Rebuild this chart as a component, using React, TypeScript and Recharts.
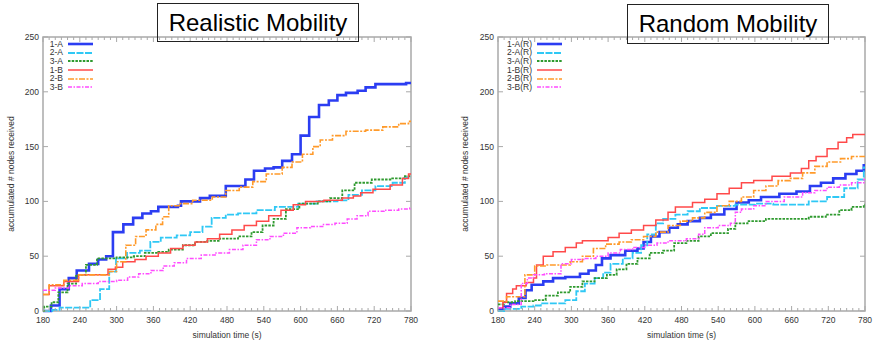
import { LineChart, Line, XAxis, YAxis, ReferenceArea, Legend } from "recharts";

type Pt = [number, number];

// axis ticks
const xMajorTicks = [180, 240, 300, 360, 420, 480, 540, 600, 660, 720, 780];
const xMinorTicks = Array.from({ length: 61 }, (_, i) => 180 + i * 10);
const yTicks = [0, 50, 100, 150, 200, 250];

const realisticNames = ["1-A", "2-A", "3-A", "1-B", "2-B", "3-B"];
const randomNames = ["1-A(R)", "2-A(R)", "3-A(R)", "1-B(R)", "2-B(R)", "3-B(R)"];

// realistic mobility: [time (s), accumulated nodes]
const realistic1A: Pt[] = [[180, 0], [193, 5], [207, 20], [222, 30], [235, 37], [255, 43], [270, 47], [283, 50], [294, 72], [311, 79], [327, 85], [342, 89], [356, 91], [368, 95], [400, 96], [405, 100], [436, 103], [452, 105], [478, 114], [510, 120], [524, 128], [542, 130], [556, 131], [570, 137], [586, 143], [600, 160], [614, 177], [630, 188], [646, 192], [660, 197], [674, 199], [693, 201], [706, 204], [722, 207], [772, 208], [780, 208]];
const realistic2A: Pt[] = [[180, 0], [195, 1], [207, 3], [257, 10], [273, 20], [288, 36], [299, 48], [317, 53], [338, 55], [355, 63], [372, 67], [398, 69], [420, 72], [440, 77], [455, 85], [478, 88], [498, 89], [528, 92], [558, 95], [596, 98], [626, 100], [660, 101], [678, 106], [700, 110], [722, 114], [750, 117], [770, 122], [780, 122]];
const realistic3A: Pt[] = [[180, 0], [182, 4], [194, 8], [205, 17], [220, 25], [234, 33], [250, 42], [268, 48], [300, 49], [328, 50], [346, 53], [368, 54], [385, 56], [408, 60], [428, 63], [448, 64], [468, 66], [498, 68], [520, 72], [538, 78], [556, 84], [576, 93], [598, 98], [628, 100], [648, 103], [668, 110], [688, 117], [716, 120], [748, 121], [770, 123], [780, 123]];
const realistic1B: Pt[] = [[180, 15], [190, 23], [214, 27], [238, 33], [286, 38], [298, 40], [310, 45], [330, 47], [348, 50], [368, 53], [388, 57], [408, 60], [428, 63], [448, 66], [468, 70], [488, 74], [508, 78], [528, 82], [548, 87], [568, 92], [588, 97], [608, 100], [638, 101], [668, 103], [686, 105], [698, 108], [718, 111], [746, 115], [766, 121], [776, 125], [780, 125]];
const realistic2B: Pt[] = [[180, 15], [190, 24], [214, 28], [238, 33], [288, 36], [300, 45], [315, 60], [331, 68], [348, 74], [364, 79], [375, 86], [385, 96], [402, 98], [424, 101], [456, 104], [478, 110], [500, 113], [522, 118], [544, 125], [570, 131], [586, 136], [603, 143], [620, 150], [632, 156], [652, 160], [674, 164], [706, 165], [734, 168], [760, 171], [776, 173], [780, 173]];
const realistic3B: Pt[] = [[180, 19], [200, 21], [222, 23], [244, 25], [270, 27], [300, 28], [318, 31], [336, 34], [356, 37], [376, 41], [394, 44], [414, 48], [438, 51], [462, 53], [484, 56], [506, 60], [528, 65], [550, 68], [572, 71], [594, 76], [616, 77], [636, 79], [656, 80], [676, 84], [692, 87], [710, 91], [736, 92], [760, 93], [778, 94], [780, 94]];

// random mobility
const random1A: Pt[] = [[180, 2], [190, 4], [200, 7], [214, 12], [225, 19], [235, 24], [254, 27], [270, 30], [290, 31], [314, 34], [328, 37], [340, 42], [350, 48], [364, 51], [388, 55], [408, 57], [418, 63], [430, 68], [444, 72], [460, 76], [474, 79], [490, 82], [510, 85], [528, 88], [550, 93], [570, 99], [590, 101], [610, 104], [640, 107], [668, 109], [690, 114], [708, 117], [728, 121], [748, 125], [766, 128], [778, 133], [780, 133]];
const random2A: Pt[] = [[180, 0], [190, 2], [218, 4], [238, 5], [250, 7], [282, 7], [290, 10], [308, 18], [322, 25], [338, 30], [352, 35], [364, 43], [384, 48], [400, 53], [414, 60], [424, 70], [438, 80], [450, 84], [470, 88], [490, 91], [510, 94], [538, 96], [568, 97], [600, 98], [630, 97], [688, 100], [718, 104], [746, 112], [768, 120], [778, 131], [780, 131]];
const random3A: Pt[] = [[180, 6], [190, 8], [208, 9], [238, 10], [258, 14], [278, 17], [298, 22], [318, 27], [338, 30], [358, 33], [374, 38], [390, 43], [408, 48], [428, 53], [450, 55], [468, 62], [488, 64], [508, 68], [528, 71], [556, 75], [568, 80], [588, 82], [618, 84], [658, 84], [688, 86], [716, 88], [738, 92], [758, 95], [778, 97], [780, 97]];
const random1B: Pt[] = [[180, 3], [188, 8], [194, 16], [204, 20], [210, 23], [226, 26], [238, 30], [243, 42], [254, 50], [270, 54], [290, 58], [308, 62], [318, 64], [350, 64], [360, 67], [378, 71], [398, 74], [418, 78], [438, 83], [458, 90], [470, 95], [498, 99], [518, 102], [538, 107], [558, 112], [578, 117], [598, 119], [628, 123], [658, 126], [676, 130], [688, 137], [700, 141], [718, 148], [736, 154], [750, 158], [760, 161], [780, 161]];
const random2B: Pt[] = [[180, 9], [194, 13], [224, 33], [240, 41], [260, 42], [298, 45], [318, 50], [336, 57], [356, 61], [378, 63], [398, 65], [418, 68], [438, 72], [458, 78], [478, 82], [498, 85], [518, 90], [538, 96], [558, 100], [578, 104], [598, 110], [618, 114], [638, 119], [658, 121], [678, 126], [698, 132], [718, 136], [740, 139], [758, 141], [780, 141]];
const random3B: Pt[] = [[180, 3], [200, 6], [218, 25], [228, 30], [238, 33], [256, 34], [283, 43], [300, 47], [320, 48], [340, 50], [360, 53], [380, 56], [400, 58], [420, 60], [440, 62], [458, 64], [488, 66], [508, 70], [518, 76], [540, 78], [560, 80], [568, 90], [578, 93], [598, 96], [618, 100], [648, 104], [678, 108], [698, 110], [718, 113], [738, 115], [758, 117], [778, 120], [780, 120]];

const realisticSeries = [realistic1A, realistic2A, realistic3A, realistic1B, realistic2B, realistic3B];
const randomSeries = [random1A, random2A, random3A, random1B, random2B, random3B];

// gnuplot-ish line styles, same order as the series
const lineStyles = [
  { color: "#2b3df2", width: 2.6, dash: undefined as string | undefined },
  { color: "#2fc8f5", width: 1.8, dash: "7 1.5" },
  { color: "#2f9a2f", width: 1.8, dash: "2.5 1.2" },
  { color: "#ff4a4a", width: 1.5, dash: undefined },
  { color: "#ff9a2a", width: 1.6, dash: "6 1.5 2 1.5" },
  { color: "#ff4cff", width: 1.5, dash: "4 1.5 1.5 1.5" },
];

const FONT = "'Liberation Sans', Arial, sans-serif";
const FRAME = "#a9a9a9";
const TEXT = "#333";
const PLOT_TOP = 37;
const PLOT_BOTTOM = 311;

type Layout = {
  left: number;
  width: number;
  yAxisWidth: number;
  marginRight: number;
  yLabelDx: number;
  legendLeft: number;
  legendTextWidth: number;
  titleLeft: number;
  titleTop: number;
  titleHeight: number;
};

const XTick = (props: any) => {
  const { x, payload } = props;
  const major = xMajorTicks.includes(payload.value);
  const len = major ? 5 : 3;
  return (
    <g>
      <line x1={x} x2={x} y1={PLOT_BOTTOM} y2={PLOT_BOTTOM - len} stroke={FRAME} />
      <line x1={x} x2={x} y1={PLOT_TOP} y2={PLOT_TOP + len} stroke={FRAME} />
      {major && (
        <text x={x} y={PLOT_BOTTOM + 12} textAnchor="middle" fontSize={8.5} fill={TEXT}>
          {payload.value}
        </text>
      )}
    </g>
  );
};

const makeYTick = (plotLeft: number, plotRight: number) => (props: any) => {
  const { y, payload } = props;
  return (
    <g>
      <line x1={plotLeft} x2={plotLeft + 5} y1={y} y2={y} stroke={FRAME} />
      <line x1={plotRight} x2={plotRight - 5} y1={y} y2={y} stroke={FRAME} />
      <text x={plotLeft - 4} y={y + 3} textAnchor="end" fontSize={8.5} fill={TEXT}>
        {payload.value}
      </text>
    </g>
  );
};

function LegendBox({ names, textWidth }: { names: string[]; textWidth: number }) {
  return (
    <div style={{ fontFamily: FONT, fontSize: 8.5, color: TEXT }}>
      {names.map((n, i) => {
        const s = lineStyles[i];
        return (
          <div key={n} style={{ display: "flex", alignItems: "center", height: 8.7 }}>
            <span style={{ width: textWidth, textAlign: "right", lineHeight: "8.7px" }}>{n}</span>
            <svg width={30} height={6}>
              <line x1={5} x2={30} y1={3} y2={3} stroke={s.color} strokeWidth={s.width} strokeDasharray={s.dash} />
            </svg>
          </div>
        );
      })}
    </div>
  );
}

function MobilityChart({ title, names, series, layout }: { title: string; names: string[]; series: Pt[][]; layout: Layout }) {
  const plotLeft = layout.yAxisWidth;
  const plotRight = layout.width - layout.marginRight;
  return (
    <div style={{ position: "absolute", left: layout.left, top: 0, width: layout.width, height: 341 }}>
      <LineChart
        width={layout.width}
        height={341}
        margin={{ top: PLOT_TOP, right: layout.marginRight, bottom: 0, left: 0 }}
        style={{ fontFamily: FONT }}
      >
        <XAxis
          dataKey="t"
          type="number"
          domain={[180, 780]}
          allowDataOverflow
          ticks={xMinorTicks}
          interval={0}
          tickSize={0}
          tickLine={false}
          axisLine={false}
          height={30}
          tick={XTick}
          label={{ value: "simulation time (s)", position: "insideBottom", offset: 3, fontSize: 8.5, fill: TEXT }}
        />
        <YAxis
          type="number"
          domain={[0, 250]}
          ticks={yTicks}
          interval={0}
          width={layout.yAxisWidth}
          tickSize={0}
          tickLine={false}
          axisLine={false}
          tick={makeYTick(plotLeft, plotRight)}
          label={{ value: "accumulated # nodes received", angle: -90, position: "center", dx: layout.yLabelDx, fontSize: 8.5, fill: TEXT }}
        />
        <ReferenceArea x1={180} x2={780} y1={0} y2={250} fill="none" stroke={FRAME} strokeWidth={1.5} />
        {series.map((pts, i) => (
          <Line
            key={names[i]}
            name={names[i]}
            data={pts.map(([t, v]) => ({ t, v }))}
            dataKey="v"
            type="stepAfter"
            stroke={lineStyles[i].color}
            strokeWidth={lineStyles[i].width}
            strokeDasharray={lineStyles[i].dash}
            dot={false}
            isAnimationActive={false}
          />
        ))}
        <Legend
          layout="vertical"
          align="center"
          verticalAlign="middle"
          wrapperStyle={{ left: layout.legendLeft, top: 39.6, width: "auto" }}
          content={() => <LegendBox names={names} textWidth={layout.legendTextWidth} />}
        />
      </LineChart>
      <div
        style={{
          position: "absolute",
          left: layout.titleLeft - layout.left,
          top: layout.titleTop,
          width: 202,
          height: layout.titleHeight,
          boxSizing: "border-box",
          border: "1px solid #222",
          fontFamily: FONT,
          fontSize: 24,
          lineHeight: `${layout.titleHeight - 2}px`,
          textAlign: "center",
          color: "#000",
          pointerEvents: "none",
        }}
      >
        {title}
      </div>
    </div>
  );
}

const leftLayout: Layout = {
  left: 0,
  width: 440,
  yAxisWidth: 43,
  marginRight: 29,
  yLabelDx: -10.5,
  legendLeft: 33,
  legendTextWidth: 30,
  titleLeft: 157,
  titleTop: 3,
  titleHeight: 39,
};

const rightLayout: Layout = {
  left: 440,
  width: 435,
  yAxisWidth: 58,
  marginRight: 10,
  yLabelDx: -4,
  legendLeft: 50,
  legendTextWidth: 42,
  titleLeft: 627,
  titleTop: 4,
  titleHeight: 40,
};

export default function App() {
  return (
    <div style={{ position: "absolute", left: 0, top: 0, width: 875, height: 341, background: "#fff" }}>
      <MobilityChart title="Realistic Mobility" names={realisticNames} series={realisticSeries} layout={leftLayout} />
      <MobilityChart title="Random Mobility" names={randomNames} series={randomSeries} layout={rightLayout} />
    </div>
  );
}
